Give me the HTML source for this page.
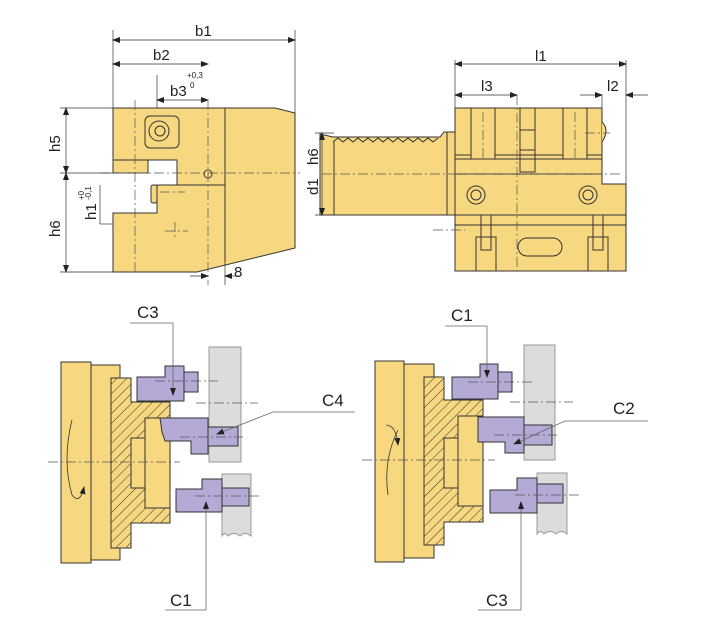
<!DOCTYPE html>
<html><head><meta charset="utf-8"><style>
html,body{margin:0;padding:0;background:#fff}
svg{display:block}
text{font-family:"Liberation Sans",sans-serif;fill:#222}
</style></head><body>
<svg width="707" height="631" viewBox="0 0 707 631" xmlns="http://www.w3.org/2000/svg">
<defs>
<pattern id="h" width="7" height="7" patternUnits="userSpaceOnUse" patternTransform="rotate(45)">
<rect width="7" height="7" fill="#f7d77f"/><line x1="0" y1="0" x2="0" y2="7" stroke="#333" stroke-width="1"/>
</pattern>
<marker id="a" markerWidth="8" markerHeight="8" refX="7" refY="4" orient="auto" markerUnits="userSpaceOnUse"><path d="M0,1 L8,4 L0,7z" fill="#222"/></marker>
<marker id="as" markerWidth="8" markerHeight="8" refX="1" refY="4" orient="auto" markerUnits="userSpaceOnUse"><path d="M8,1 L0,4 L8,7z" fill="#222"/></marker>
</defs>
<g stroke="#333" stroke-width="1" fill="#f7d77f">
<!-- TOP LEFT block -->
<path d="M113,108 L275,108 L295,113 L295,248 L197,272 L113,272 L113,213 L157,213 L157,185 L177,185 L177,160 L113,160 Z"/>
<rect x="113" y="160" width="35" height="13"/>
<line x1="225" y1="108" x2="225" y2="262"/>
<line x1="157" y1="185" x2="225" y2="185"/>
<rect x="145" y="116" width="34" height="32" rx="5" fill="none"/>
<circle cx="159" cy="131" r="10" fill="none"/><circle cx="160" cy="131" r="5" fill="none"/>
<circle cx="208" cy="174" r="4" fill="none"/>
<rect x="151" y="185" width="6" height="18" rx="2"/>
</g>
<g stroke="#555" stroke-width="0.7" fill="none" stroke-dasharray="10,3,2,3">
<line x1="135" y1="100" x2="135" y2="272"/><line x1="208" y1="100" x2="208" y2="285"/>
<line x1="100" y1="173" x2="300" y2="173"/><line x1="160" y1="192" x2="185" y2="192"/>
<line x1="175" y1="222" x2="175" y2="240"/><line x1="165" y1="231" x2="188" y2="231"/>
</g>
<g stroke="#333" stroke-width="0.7" fill="none">
<line x1="113" y1="30" x2="113" y2="108"/><line x1="295" y1="30" x2="295" y2="113"/>
<line x1="113" y1="40" x2="295" y2="40" marker-start="url(#as)" marker-end="url(#a)"/>
<line x1="113" y1="64" x2="208" y2="64" marker-start="url(#as)" marker-end="url(#a)"/>
<line x1="157" y1="75" x2="157" y2="108"/>
<line x1="157" y1="100" x2="208" y2="100" marker-start="url(#as)" marker-end="url(#a)"/>
<line x1="60" y1="108" x2="113" y2="108"/><line x1="60" y1="272" x2="113" y2="272"/>
<line x1="60" y1="173" x2="113" y2="173"/>
<line x1="66" y1="108" x2="66" y2="173" marker-start="url(#as)" marker-end="url(#a)"/>
<line x1="66" y1="173" x2="66" y2="272" marker-start="url(#as)" marker-end="url(#a)"/>
<line x1="100" y1="224" x2="113" y2="224"/><line x1="100" y1="185" x2="100" y2="224"/>
<line x1="225" y1="262" x2="225" y2="285"/>
<line x1="190" y1="276" x2="208" y2="276" marker-end="url(#a)"/>
<line x1="225" y1="276" x2="240" y2="276" marker-start="url(#as)"/>
</g>
<text x="195" y="36" font-size="15">b1</text>
<text x="153" y="60" font-size="15">b2</text>
<text x="170" y="96" font-size="15">b3</text>
<text x="187" y="78" font-size="8">+0,3</text><text x="190" y="88" font-size="8">0</text>
<text x="234" y="277" font-size="15">8</text>
<text transform="translate(60,152) rotate(-90)" font-size="15">h5</text>
<text transform="translate(60,237) rotate(-90)" font-size="15">h6</text>
<text transform="translate(96,220) rotate(-90)" font-size="15">h1</text>
<text transform="translate(84,200) rotate(-90)" font-size="8">+0</text>
<text transform="translate(91,200) rotate(-90)" font-size="8">-0,1</text>

<!-- TOP RIGHT -->
<g stroke="#333" stroke-width="1" fill="#f7d77f">
<path d="M320,134 L333,137 L440,137 L444,132 L455,132 L455,215 L333,215 L320,215 Z"/>
<polyline fill="none" points="333,142 338,138 343,142 348,138 353,142 358,138 363,142 368,138 373,142 378,138 383,142 388,138 393,142 398,138 403,142 408,138 413,142 418,138 423,142 428,138 433,142 438,138"/>
<line x1="334" y1="142" x2="334" y2="215"/><line x1="447" y1="132" x2="447" y2="215"/>
<path d="M455,108 L602,108 L602,184 L626,184 L626,271 L455,271 Z"/>
<line x1="455" y1="155" x2="602" y2="155"/><line x1="455" y1="159" x2="602" y2="159"/>
<line x1="455" y1="174" x2="602" y2="174"/><line x1="455" y1="215" x2="626" y2="215"/>
<line x1="455" y1="225" x2="626" y2="225"/>
<rect x="471" y="108" width="24" height="51"/><rect x="563" y="108" width="24" height="51"/>
<rect x="520" y="108" width="15" height="64" fill="none"/>
<rect x="520" y="130" width="15" height="20"/>
<rect x="481" y="215" width="10" height="35" fill="none"/><rect x="593" y="215" width="10" height="35" fill="none"/>
<rect x="476" y="237" width="20" height="34" fill="none"/><rect x="588" y="237" width="20" height="34" fill="none"/>
<rect x="518" y="238" width="44" height="18" rx="9" fill="none"/>
<circle cx="476" cy="195" r="9"/><circle cx="476" cy="195" r="5"/>
<circle cx="588" cy="195" r="9"/><circle cx="588" cy="195" r="5"/>
<path d="M602,122 Q610,130 602,142" fill="#f7d77f"/>
</g>
<g stroke="#555" stroke-width="0.7" fill="none" stroke-dasharray="10,3,2,3">
<line x1="322" y1="174" x2="620" y2="174"/><line x1="517" y1="95" x2="517" y2="271"/>
<line x1="483" y1="112" x2="483" y2="159"/><line x1="575" y1="112" x2="575" y2="159"/>
<line x1="433" y1="230" x2="465" y2="230"/><line x1="585" y1="133" x2="610" y2="133"/>
</g>
<g stroke="#333" stroke-width="0.7" fill="none">
<line x1="455" y1="60" x2="455" y2="108"/><line x1="626" y1="60" x2="626" y2="184"/>
<line x1="602" y1="95" x2="602" y2="108"/>
<line x1="455" y1="64" x2="626" y2="64" marker-start="url(#as)" marker-end="url(#a)"/>
<line x1="455" y1="95" x2="517" y2="95" marker-start="url(#as)" marker-end="url(#a)"/>
<line x1="580" y1="95" x2="602" y2="95" marker-end="url(#a)"/>
<line x1="626" y1="95" x2="648" y2="95" marker-start="url(#as)"/>
<line x1="315" y1="133" x2="334" y2="133"/><line x1="315" y1="215" x2="334" y2="215"/>
<line x1="322" y1="133" x2="322" y2="215" marker-start="url(#as)" marker-end="url(#a)"/>
</g>
<text x="535" y="61" font-size="15">l1</text>
<text x="481" y="91" font-size="15">l3</text>
<text x="607" y="91" font-size="15">l2</text>
<text transform="translate(318,195) rotate(-90)" font-size="15">d1</text>
<text transform="translate(318,165) rotate(-90)" font-size="15">h6</text>

<!-- BOTTOM LEFT -->
<g stroke="#333" stroke-width="1">
<rect x="209" y="347" width="32" height="115" fill="#dcdcdc" stroke="#999"/>
<path d="M222,474 L251,474 L251,536 Q245,531 240,536 Q234,531 228,536 Q225,531 222,536 Z" fill="#dcdcdc" stroke="#999"/>
<rect x="61" y="362" width="30" height="201" fill="#f7d77f"/>
<path d="M91,365 L120,365 L120,378 L111,378 L111,548 L120,548 L120,560 L91,560 Z" fill="#f7d77f"/>
<path d="M111,378 L131,378 L131,402 L170,402 L170,523 L131,523 L131,548 L111,548 Z" fill="url(#h)"/>
<rect x="131" y="438" width="14" height="50" fill="#f7d77f"/>
<rect x="145" y="418" width="25" height="90" fill="#f7d77f"/>
<g fill="#b5aad6">
<rect x="184" y="372" width="14" height="20"/>
<path d="M137,377 L165,377 L165,366 L184,366 L184,401 L137,401 Z"/>
<rect x="208" y="427" width="30" height="19"/>
<path d="M160,418 L208,418 L208,454 L191,454 L191,441 L165,441 L162,432 Z"/>
<rect x="222" y="488" width="27" height="18"/>
<path d="M176,489 L202,489 L202,479 L222,479 L222,512 L176,512 Z"/>
</g>
</g>
<g stroke="#555" stroke-width="0.7" fill="none" stroke-dasharray="10,3,2,3">
<line x1="48" y1="462" x2="180" y2="462"/><line x1="155" y1="381" x2="218" y2="381"/>
<line x1="196" y1="403" x2="258" y2="403"/><line x1="180" y1="437" x2="243" y2="437"/>
<line x1="195" y1="496" x2="262" y2="496"/>
</g>
<path d="M72,420 Q62,460 72,495 Q80,505 84,487" stroke="#333" stroke-width="0.8" fill="none" marker-end="url(#a)"/>
<g stroke="#666" stroke-width="0.8" fill="none">
<polyline points="130,323 173,323 173,395" marker-end="url(#a)"/>
<polyline points="355,412 273,412 217,434" marker-end="url(#a)"/>
<polyline points="165,610 206,610 206,502" marker-end="url(#a)"/>
</g>
<text x="137" y="318" font-size="17">C3</text>
<text x="322" y="406" font-size="17">C4</text>
<text x="170" y="606" font-size="17">C1</text>

<!-- BOTTOM RIGHT -->
<g stroke="#333" stroke-width="1">
<rect x="524" y="345" width="31" height="115" fill="#dcdcdc" stroke="#999"/>
<path d="M537,473 L567,473 L567,534 Q561,529 556,534 Q550,529 544,534 Q540,529 537,534 Z" fill="#dcdcdc" stroke="#999"/>
<rect x="375" y="361" width="29" height="201" fill="#f7d77f"/>
<path d="M404,364 L434,364 L434,377 L424,377 L424,545 L434,545 L434,558 L404,558 Z" fill="#f7d77f"/>
<path d="M424,377 L444,377 L444,400 L483,400 L483,522 L444,522 L444,545 L424,545 Z" fill="url(#h)"/>
<rect x="444" y="438" width="14" height="50" fill="#f7d77f"/>
<rect x="458" y="416" width="25" height="90" fill="#f7d77f"/>
<g fill="#b5aad6">
<rect x="498" y="372" width="14" height="20"/>
<path d="M452,377 L480,377 L480,364 L498,364 L498,399 L452,399 Z"/>
<rect x="524" y="425" width="28" height="20"/>
<path d="M478,417 L524,417 L524,453 L505,453 L505,442 L478,442 Z"/>
<rect x="537" y="484" width="26" height="19"/>
<path d="M490,490 L517,490 L517,478 L537,478 L537,513 L490,513 Z"/>
</g>
</g>
<g stroke="#555" stroke-width="0.7" fill="none" stroke-dasharray="10,3,2,3">
<line x1="362" y1="460" x2="495" y2="460"/><line x1="468" y1="382" x2="532" y2="382"/>
<line x1="510" y1="402" x2="573" y2="402"/><line x1="494" y1="435" x2="557" y2="435"/>
<line x1="515" y1="495" x2="580" y2="495"/>
</g>
<path d="M398,430 Q383,460 388,495" stroke="#333" stroke-width="0.8" fill="none"/>
<path d="M386,425 Q396,425 398,445" stroke="#333" stroke-width="0.8" fill="none" marker-end="url(#a)"/>
<g stroke="#666" stroke-width="0.8" fill="none">
<polyline points="445,326 487,326 487,377" marker-end="url(#a)"/>
<polyline points="648,421 565,421 514,444" marker-end="url(#a)"/>
<polyline points="478,610 521,610 521,502" marker-end="url(#a)"/>
</g>
<text x="451" y="321" font-size="17">C1</text>
<text x="613" y="414" font-size="17">C2</text>
<text x="486" y="606" font-size="17">C3</text>
</svg>
</body></html>
